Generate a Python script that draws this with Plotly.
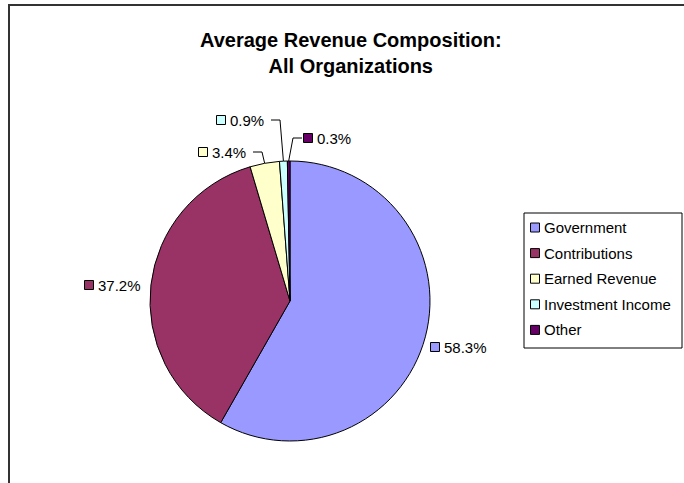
import math
import plotly.graph_objects as go

# ---- data ----
categories = ["Government", "Contributions", "Earned Revenue", "Investment Income", "Other"]
values = [58.3, 37.2, 3.4, 0.9, 0.3]
colors = ["#9999FF", "#993366", "#FFFFCC", "#CCFFFF", "#660066"]
title_lines = ["Average Revenue Composition:", "All Organizations"]

# ---- layout (window pixels) ----
W, H = 684, 483
CX, CY, R = 290, 301, 140
FONT = "Liberation Sans, Arial, sans-serif"
# label square centres (pixel positions) and whether a leader line is drawn
label_pos = [(435, 347), (89, 285), (203, 152), (221, 120), (308, 138)]
leader = [False, False, True, True, True]
leg_x0, leg_y0, leg_x1, leg_y1 = 524, 213, 682, 348
leg_first, leg_step = 227.5, 25.6

fig = go.Figure()

fig.add_trace(go.Pie(
    labels=categories, values=values, sort=False, direction="clockwise", rotation=0,
    marker=dict(colors=colors, line=dict(color="black", width=1)),
    textinfo="none", hoverinfo="label+percent", showlegend=False,
    domain=dict(x=[(CX - R) / W, (CX + R) / W],
                y=[(H - CY - R) / H, (H - CY + R) / H]),
))

total = sum(values)
cum = 0.0
for i, v in enumerate(values):
    mid = (cum + v / 2) / total * 2 * math.pi
    cum += v
    ex, ey = CX + R * math.sin(mid), CY - R * math.cos(mid)
    lx, ly = label_pos[i]
    if leader[i]:
        if lx < CX - 20:
            start = lx + 50
            elbow = start + 9
        else:
            start = lx - 6
            elbow = start - 9
        fig.add_trace(go.Scatter(x=[start, elbow, ex], y=[ly, ly, ey], mode="lines",
                                 line=dict(color="black", width=1), hoverinfo="skip",
                                 showlegend=False))

fig.add_trace(go.Scatter(
    x=[p[0] for p in label_pos], y=[p[1] for p in label_pos], mode="markers",
    marker=dict(symbol="square", size=9, color=colors, line=dict(color="black", width=1)),
    hoverinfo="skip", showlegend=False))

annotations = []
for i, v in enumerate(values):
    lx, ly = label_pos[i]
    annotations.append(dict(x=lx + 7, y=ly, xref="x", yref="y", text=f"{v:.1f}%",
                            showarrow=False, xanchor="left", yanchor="middle",
                            font=dict(family=FONT, size=15, color="black")))

# legend (manual, Excel style)
leg_y = [leg_first + leg_step * i for i in range(len(categories))]
fig.add_trace(go.Scatter(
    x=[leg_x0 + 11] * len(categories), y=leg_y, mode="markers",
    marker=dict(symbol="square", size=9, color=colors, line=dict(color="black", width=1)),
    hoverinfo="skip", showlegend=False))
for c, y in zip(categories, leg_y):
    annotations.append(dict(x=leg_x0 + 18, y=y, xref="x", yref="y", text=c, showarrow=False,
                            xanchor="left", yanchor="middle",
                            font=dict(family=FONT, size=15, color="black")))

annotations.append(dict(x=351, y=53, xref="x", yref="y",
                        text="<br>".join(f"<b>{t}</b>" for t in title_lines),
                        showarrow=False, xanchor="center", yanchor="middle",
                        font=dict(family=FONT, size=20, color="black")))

shapes = [
    dict(type="rect", xref="x", yref="y", x0=leg_x0, y0=leg_y0, x1=leg_x1, y1=leg_y1,
         line=dict(color="black", width=1), fillcolor="rgba(0,0,0,0)", layer="below"),
    dict(type="rect", xref="x", yref="y", x0=9, y0=5, x1=W + 30, y1=H + 30,
         line=dict(color="#333333", width=2), fillcolor="rgba(0,0,0,0)"),
]

fig.update_layout(
    width=W, height=H, margin=dict(l=0, r=0, t=0, b=0),
    paper_bgcolor="white", plot_bgcolor="white",
    xaxis=dict(range=[0, W], visible=False, fixedrange=True),
    yaxis=dict(range=[H, 0], visible=False, fixedrange=True),
    annotations=annotations, shapes=shapes, showlegend=False,
)

fig.write_html("out.html", config={"displayModeBar": False},
               post_script="document.body.style.margin='0px';")
